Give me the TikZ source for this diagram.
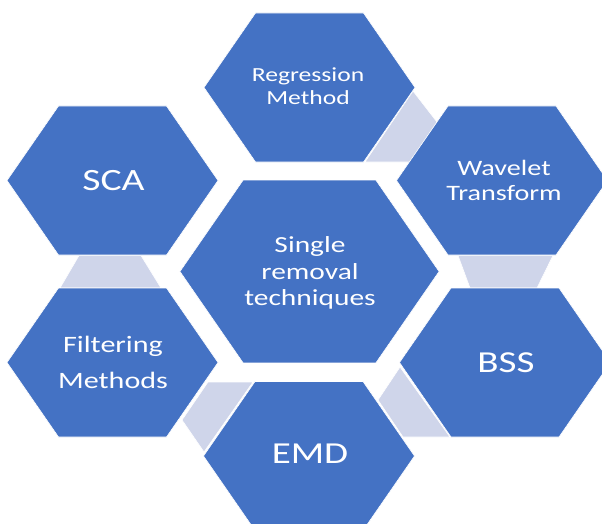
\documentclass[tikz,border=0pt]{standalone}
\usepackage{fontspec}
\setmainfont{Carlito}[FakeStretch=1.28]
\definecolor{hexblue}{HTML}{4472C4}
\definecolor{hexlight}{HTML}{CFD5EA}
\tikzset{
  hexcell/.style={fill=hexblue, draw=white, line width=0.6pt},
  linkcell/.style={fill=hexlight, draw=white, line width=0.6pt},
  lbl/.style={text=white, anchor=base, inner sep=0pt},
  pics/hexa/.style={code={\path[hexcell] (-105.5,0) -- (-54,-74.5) -- (54,-74.5) -- (105.5,0) -- (54,74.5) -- (-54,74.5) -- cycle;}}
}
\begin{document}
\begin{tikzpicture}[x=1pt,y=-1pt]
\useasboundingbox (0,0) rectangle (602,524);
\fill[white] (0,0) rectangle (602,524);
% link shapes
\path[linkcell] (365,162) -- (413,91) -- (437,122) -- (410,162) -- cycle;
\path[linkcell] (79,255.5) -- (141,255.5) -- (161,288) -- (60,288) -- cycle;
\path[linkcell] (458,255.5) -- (553,255.5) -- (537,288) -- (470,288) -- cycle;
\path[linkcell] (208,382) -- (253,382) -- (204,452) -- (182,420) -- cycle;
\path[linkcell] (400,367) -- (378,400) -- (403,437) -- (450,437) -- cycle;
% hexagons
\pic at (309.5,87.5) {hexa};
\pic at (502,180.5) {hexa};
\pic at (112.5,180.5) {hexa};
\pic at (112.5,362.5) {hexa};
\pic at (505,362.5) {hexa};
\pic at (309,456) {hexa};
\pic[scale=1.228] at (309.5,271.5) {hexa};
% labels
\node[lbl, font=\fontsize{20}{24}\selectfont] (reg1) at (308,82) {Regression};
\node[lbl, font=\fontsize{20}{24}\selectfont] (reg2) at (308,105) {Method};
\node[lbl, font=\fontsize{22}{26}\selectfont] (wav1) at (504,175) {Wavelet};
\node[lbl, font=\fontsize{22}{26}\selectfont] (wav2) at (504,200) {Transform};
\node[lbl, font=\fontsize{31}{36}\selectfont] (sca) at (113.5,190) {SCA};
\node[lbl, font=\fontsize{23}{27}\selectfont] (ctr1) at (310,252) {Single};
\node[lbl, font=\fontsize{23}{27}\selectfont] (ctr2) at (310,279) {removal};
\node[lbl, font=\fontsize{23}{27}\selectfont] (ctr3) at (310,305) {techniques};
\node[lbl, font=\fontsize{23.5}{27}\selectfont] (fil1) at (113,352) {Filtering};
\node[lbl, font=\fontsize{23.5}{27}\selectfont] (fil2) at (113,388) {Methods};
\node[lbl, font=\fontsize{30.5}{36}\selectfont] (bss) at (506,372) {BSS};
\node[lbl, font=\fontsize{30.5}{36}\selectfont] (emd) at (310,463) {EMD};
\end{tikzpicture}
\end{document}
